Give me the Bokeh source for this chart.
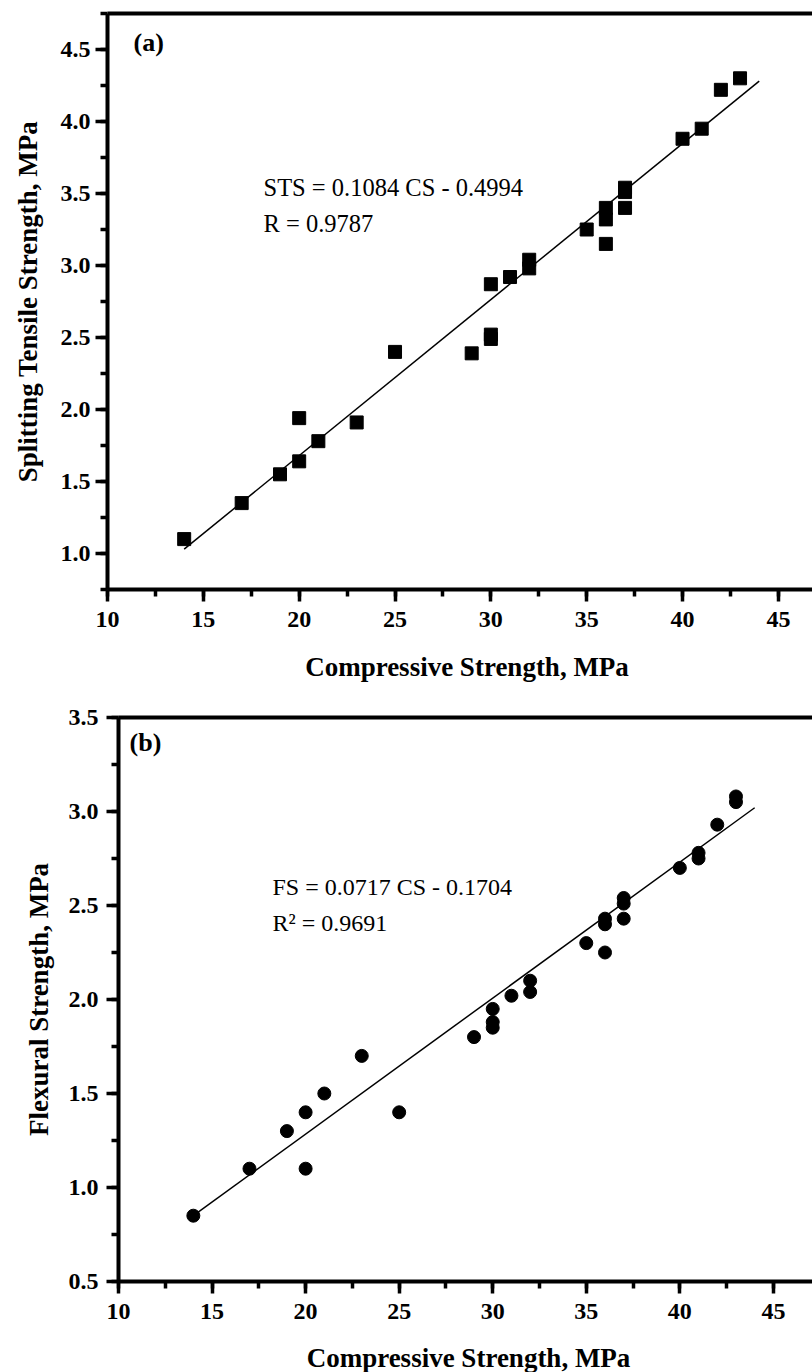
from bokeh.plotting import figure
from bokeh.models import (Label, Range1d, SingleIntervalTicker, PrintfTickFormatter,
                          LinearAxis, FixedTicker)
from bokeh.embed import file_html
from bokeh.resources import INLINE

# ---------------- data ----------------
# (a) Splitting tensile strength vs compressive strength
cs_a = [14, 17, 19, 20, 20, 21, 23, 25, 29, 30, 30, 30, 31, 32, 32,
        35, 36, 36, 36, 37, 37, 37, 40, 41, 42, 43]
sts_a = [1.10, 1.35, 1.55, 1.64, 1.94, 1.78, 1.91, 2.40, 2.39, 2.49, 2.52, 2.87, 2.92, 2.98, 3.04,
         3.25, 3.15, 3.32, 3.40, 3.40, 3.51, 3.54, 3.88, 3.95, 4.22, 4.30]
fit_a_x = [14, 44]
fit_a_y = [1.03, 4.28]
eq_a = "STS = 0.1084 CS - 0.4994"
r_a = "R = 0.9787"

# (b) Flexural strength vs compressive strength
cs_b = [14, 17, 19, 20, 20, 21, 23, 25, 29, 30, 30, 30, 31, 32, 32,
        35, 36, 36, 36, 37, 37, 37, 40, 41, 41, 42, 43, 43]
fs_b = [0.85, 1.10, 1.30, 1.40, 1.10, 1.50, 1.70, 1.40, 1.80, 1.85, 1.88, 1.95, 2.02, 2.04, 2.10,
        2.30, 2.25, 2.40, 2.43, 2.43, 2.51, 2.54, 2.70, 2.75, 2.78, 2.93, 3.05, 3.08]
fit_b_x = [14, 44]
fit_b_y = [0.85, 3.02]
eq_b = "FS = 0.0717 CS - 0.1704"
r_b = "R\u00b2 = 0.9691"

x_title = "Compressive Strength, MPa"
y_title_a = "Splitting Tensile Strength, MPa"
y_title_b = "Flexural Strength, MPa"

FONT = "Liberation Serif"


def style_axes(p, ylabel_standoff, ytick_standoff):
    for ax in p.xaxis + p.yaxis:
        ax.axis_line_width = 4
        ax.axis_line_color = "black"
        ax.major_tick_line_width = 3.5
        ax.minor_tick_line_width = 3.5
        ax.major_tick_out = 12
        ax.major_tick_in = 0
        ax.minor_tick_out = 7
        ax.minor_tick_in = 0
        ax.major_label_text_font = FONT
        ax.major_label_text_font_style = "bold"
        ax.major_label_text_color = "black"
        ax.axis_label_text_font = FONT
        ax.axis_label_text_font_style = "bold"
        ax.axis_label_text_font_size = "27px"
        ax.axis_label_text_color = "black"
    p.xaxis.major_label_text_font_size = "24px"
    p.yaxis.major_label_text_font_size = "24px"
    p.xaxis.major_label_standoff = 10
    p.yaxis.major_label_standoff = ytick_standoff
    p.yaxis.axis_label_standoff = ylabel_standoff
    p.xaxis.ticker = SingleIntervalTicker(interval=5, num_minor_ticks=2)
    p.yaxis.ticker = SingleIntervalTicker(interval=0.5, num_minor_ticks=2)
    p.yaxis.formatter = PrintfTickFormatter(format="%.1f")
    top = LinearAxis(ticker=FixedTicker(ticks=[]), axis_line_width=4,
                     major_tick_line_color=None, minor_tick_line_color=None,
                     major_label_standoff=0, major_tick_out=0, minor_tick_out=0)
    p.add_layout(top, "above")


def make(height, x_end, y0, y1, left, top, bottom, ylabel, ylabel_standoff, ytick_standoff):
    p = figure(width=812, height=height, x_range=Range1d(10, x_end), y_range=Range1d(y0, y1),
               output_backend="svg", toolbar_location=None,
               min_border_left=left, min_border_right=0,
               min_border_top=top, min_border_bottom=bottom,
               y_axis_label=ylabel)
    p.outline_line_color = None
    p.grid.visible = False
    p.background_fill_color = "white"
    p.border_fill_color = "white"
    style_axes(p, ylabel_standoff, ytick_standoff)
    return p


def title_strip(height, cx, baseline_from_top):
    # thin strip holding the x-axis title, placed right under a panel
    t = figure(width=812, height=height, x_range=Range1d(0, 812), y_range=Range1d(0, height),
               output_backend="svg", toolbar_location=None,
               x_axis_type=None, y_axis_type=None, min_border=0)
    t.outline_line_color = None
    t.grid.visible = False
    t.background_fill_color = "white"
    t.border_fill_color = "white"
    t.add_layout(Label(x=cx, y=height - baseline_from_top, text=x_title, text_font=FONT,
                       text_font_style="bold", text_font_size="27px", text_color="black",
                       text_align="center", text_baseline="alphabetic"))
    return t


# ---------------- panel (a) ----------------
p1 = make(643, 46.78, 0.75, 4.75, 107, 13, 54, y_title_a, 15, 5)
p1.line(fit_a_x, fit_a_y, line_color="black", line_width=1.5)
p1.scatter(cs_a, sts_a, marker="square", size=13, fill_color="black", line_color="black")
p1.add_layout(Label(x=11.36, y=4.45, text="(a)", text_font=FONT, text_font_style="bold",
                    text_font_size="26px", text_color="black"))
p1.add_layout(Label(x=18.14, y=3.45, text=eq_a, text_font=FONT,
                    text_font_size="24.5px", text_color="black"))
p1.add_layout(Label(x=18.14, y=3.20, text=r_a, text_font=FONT,
                    text_font_size="24.5px", text_color="black"))
t1 = title_strip(52, 466.5, 23)

# ---------------- panel (b) ----------------
p2 = make(640, 47.09, 0.5, 3.5, 118, 22, 54, y_title_b, 12, 8)
p2.line(fit_b_x, fit_b_y, line_color="black", line_width=1.5)
p2.scatter(cs_b, fs_b, marker="circle", size=13, fill_color="black", line_color="black")
p2.add_layout(Label(x=10.59, y=3.29, text="(b)", text_font=FONT, text_font_style="bold",
                    text_font_size="26px", text_color="black"))
p2.add_layout(Label(x=18.23, y=2.53, text=eq_b, text_font=FONT,
                    text_font_size="24px", text_color="black"))
p2.add_layout(Label(x=18.23, y=2.34, text=r_b, text_font=FONT,
                    text_font_size="24px", text_color="black"))
t2 = title_strip(37, 468, 22)

open("out.html", "w").write(file_html([p1, t1, p2, t2], INLINE))
